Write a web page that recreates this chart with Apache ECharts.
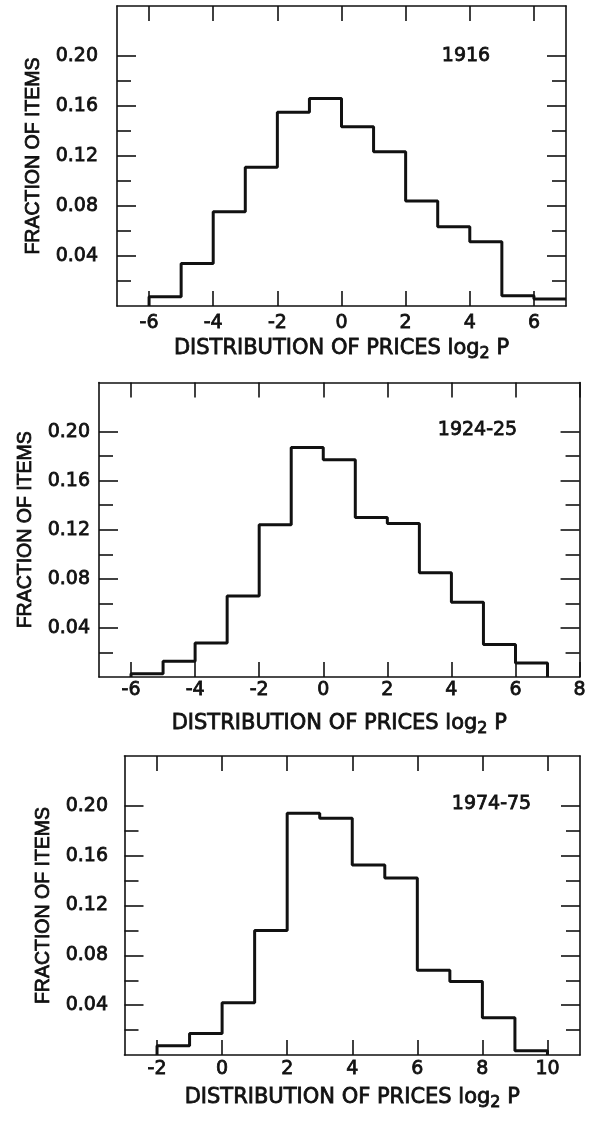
<!DOCTYPE html>
<html>
<head>
<meta charset="utf-8">
<script src="https://cdn.jsdelivr.net/npm/echarts@6/dist/echarts.min.js"></script>
<style>
html,body{margin:0;padding:0;background:#fff;}
#chart{width:589px;height:1121px;}
</style>
</head>
<body>
<div id="chart"></div>
<script>
// ---- data ----
var years = ['1916', '1924-25', '1974-75'];
var edges1916 = [-6, -5, -4, -3, -2, -1, 0, 1, 2, 3, 4, 5, 6, 7];
var freq1916 = [0.0075, 0.034, 0.0755, 0.111, 0.155, 0.166, 0.1435, 0.1235, 0.084, 0.0635, 0.0515, 0.0083, 0.0056];
var edges1924 = [-6, -5, -4, -3, -2, -1, 0, 1, 2, 3, 4, 5, 6, 7];
var freq1924 = [0.0027, 0.0128, 0.0278, 0.066, 0.124, 0.187, 0.177, 0.130, 0.125, 0.085, 0.061, 0.0264, 0.0114];
var edges1974 = [-2, -1, 0, 1, 2, 3, 4, 5, 6, 7, 8, 9, 10];
var freq1974 = [0.0075, 0.0173, 0.042, 0.100, 0.194, 0.190, 0.1525, 0.142, 0.068, 0.059, 0.030, 0.0035];
var xTicks1916 = [-6, -4, -2, 0, 2, 4, 6];
var xTicks1924 = [-6, -4, -2, 0, 2, 4, 6, 8];
var xTicks1974 = [-2, 0, 2, 4, 6, 8, 10];
var xRange1916 = [-7, 7];
var xRange1924 = [-7, 8];
var xRange1974 = [-3, 11];
var yMajor = [0.04, 0.08, 0.12, 0.16, 0.20];
var yMinor = [0.02, 0.06, 0.10, 0.14, 0.18];
var yRange = [0, 0.24];
var xTitle = 'DISTRIBUTION OF PRICES log';
var yTitle = 'FRACTION OF ITEMS';

// ---- layout ----
var panels = [
  {edges: edges1916, freq: freq1916, ticks: xTicks1916, range: xRange1916, year: years[0], drop: false,
   grid: {left: 117, top: 6, width: 449, height: 300},
   xLabelMargin: 8, xNameGap: 30, yLabelMargin: 19, yNameGap: 72, yearPos: [466, 56]},
  {edges: edges1924, freq: freq1924, ticks: xTicks1924, range: xRange1924, year: years[1], drop: true,
   grid: {left: 99, top: 382.5, width: 481, height: 294.5},
   xLabelMargin: 3.5, xNameGap: 34, yLabelMargin: 9, yNameGap: 56, yearPos: [477.5, 430]},
  {edges: edges1974, freq: freq1974, ticks: xTicks1974, range: xRange1974, year: years[2], drop: true,
   grid: {left: 124.5, top: 756, width: 455.5, height: 299},
   xLabelMargin: 5, xNameGap: 29.5, yLabelMargin: 16.5, yNameGap: 70, yearPos: [491.5, 804]}
];

var FONT = 'DejaVu Sans';
var INK = '#111';
var TB = 0.8; // text stroke to mimic the heavy print
var lineStyle = {color: INK, width: 1.6};

var grids = [], xAxes = [], yAxes = [], series = [], graphics = [];

panels.forEach(function (p, gi) {
  grids.push(Object.assign({containLabel: false}, p.grid));
  // bottom x axis
  xAxes.push({
    type: 'value', gridIndex: gi, position: 'bottom', min: p.range[0], max: p.range[1],
    axisLine: {show: true, onZero: false, lineStyle: lineStyle},
    axisTick: {show: true, inside: true, length: 15, customValues: p.ticks, lineStyle: lineStyle},
    axisLabel: {show: true, customValues: p.ticks, margin: p.xLabelMargin, fontFamily: FONT, fontSize: 19, color: INK,
      textBorderColor: INK, textBorderWidth: TB},
    splitLine: {show: false},
    name: '{a|' + xTitle + '}{s|2}{a| P}', nameLocation: 'middle', nameGap: p.xNameGap,
    nameTextStyle: {
      color: INK, fontFamily: FONT, fontSize: 21,
      rich: {
        a: {fontFamily: FONT, fontSize: 21, lineHeight: 26, color: INK, textBorderColor: INK, textBorderWidth: TB},
        s: {fontFamily: FONT, fontSize: 16, lineHeight: 16, verticalAlign: 'bottom', color: INK, textBorderColor: INK, textBorderWidth: TB}
      }
    }
  });
  // top x axis (ticks only)
  xAxes.push({
    type: 'value', gridIndex: gi, position: 'top', min: p.range[0], max: p.range[1],
    axisLine: {show: true, onZero: false, lineStyle: lineStyle},
    axisTick: {show: true, inside: true, length: 15, customValues: p.ticks, lineStyle: lineStyle},
    axisLabel: {show: false},
    splitLine: {show: false}
  });
  // left y major (labels)
  yAxes.push({
    type: 'value', gridIndex: gi, position: 'left', min: yRange[0], max: yRange[1], interval: 0.04,
    axisLine: {show: true, onZero: false, lineStyle: lineStyle},
    axisTick: {show: true, inside: true, length: 19, customValues: yMajor, lineStyle: lineStyle},
    axisLabel: {show: true, customValues: yMajor, margin: p.yLabelMargin, fontFamily: FONT, fontSize: 19, color: INK,
      textBorderColor: INK, textBorderWidth: TB,
      formatter: function (v) { return v.toFixed(2); }},
    splitLine: {show: false},
    name: yTitle, nameLocation: 'middle', nameRotate: 90, nameGap: p.yNameGap,
    nameTextStyle: {color: INK, fontFamily: 'Liberation Sans', fontSize: 19.5, textBorderColor: INK, textBorderWidth: TB}
  });
  // left y minor
  yAxes.push({
    type: 'value', gridIndex: gi, position: 'left', min: yRange[0], max: yRange[1],
    axisLine: {show: false, onZero: false},
    axisTick: {show: true, inside: true, length: 14, customValues: yMinor, lineStyle: lineStyle},
    axisLabel: {show: false}, splitLine: {show: false}
  });
  // right y major
  yAxes.push({
    type: 'value', gridIndex: gi, position: 'right', min: yRange[0], max: yRange[1],
    axisLine: {show: true, onZero: false, lineStyle: lineStyle},
    axisTick: {show: true, inside: true, length: 19, customValues: yMajor, lineStyle: lineStyle},
    axisLabel: {show: false}, splitLine: {show: false}
  });
  // right y minor
  yAxes.push({
    type: 'value', gridIndex: gi, position: 'right', min: yRange[0], max: yRange[1],
    axisLine: {show: false, onZero: false},
    axisTick: {show: true, inside: true, length: 14, customValues: yMinor, lineStyle: lineStyle},
    axisLabel: {show: false}, splitLine: {show: false}
  });

  var pts = [[p.edges[0], 0]];
  p.freq.forEach(function (v, i) { pts.push([p.edges[i + 1], v]); });
  if (p.drop) pts.push([p.edges[p.edges.length - 1], 0]);

  series.push({
    type: 'line', name: p.year, xAxisIndex: gi * 2, yAxisIndex: gi * 4,
    data: pts, step: 'start', showSymbol: false, symbol: 'none', silent: true,
    lineStyle: {color: INK, width: 3}, z: 5
  });

  graphics.push({
    type: 'text', x: p.yearPos[0], y: p.yearPos[1],
    style: {text: p.year, fill: INK, stroke: INK, lineWidth: TB, font: '19px "DejaVu Sans"',
      textAlign: 'center', textVerticalAlign: 'middle', align: 'center', verticalAlign: 'middle'}
  });
});

var chart = echarts.init(document.getElementById('chart'), null, {renderer: 'canvas'});
chart.setOption({
  animation: false,
  backgroundColor: '#fff',
  grid: grids,
  xAxis: xAxes,
  yAxis: yAxes,
  series: series,
  graphic: graphics
});
</script>
</body>
</html>
